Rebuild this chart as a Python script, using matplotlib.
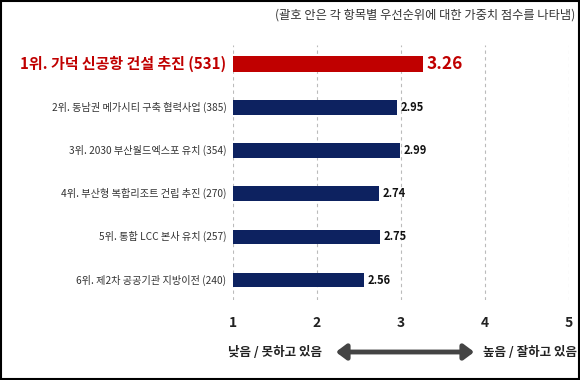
import matplotlib.pyplot as plt
from matplotlib.patches import Rectangle, FancyArrowPatch
import matplotlib.transforms as mtrans

plt.rcParams['font.family'] = ['Noto Sans CJK KR', 'DejaVu Sans']

# 데이터
ranks = ['1위', '2위', '3위', '4위', '5위', '6위']
items = ['가덕 신공항 건설 추진', '동남권 메가시티 구축 협력사업', '2030 부산월드엑스포 유치',
         '부산형 복합리조트 건립 추진', '통합 LCC 본사 유치', '제2차 공공기관 지방이전']
weights = [531, 385, 354, 270, 257, 240]
scores = [3.26, 2.95, 2.99, 2.74, 2.75, 2.56]
x_ticks = [1, 2, 3, 4, 5]

red = '#C00000'
navy = '#0D2260'

fig = plt.figure(figsize=(5.8, 3.8), dpi=100)
ax = fig.add_axes([233 / 580, 1 - 300 / 380, (569 - 233) / 580, 255 / 380])

y = list(range(len(items)))
colors = [red] + [navy] * (len(items) - 1)
heights = [0.38] + [0.34] * (len(items) - 1)
ax.barh(y, [s - 1 for s in scores], left=1, height=heights, color=colors, zorder=3)

for xt in x_ticks:
    ax.axvline(xt, color='#BBBBBB', lw=0.8, ls=(0, (3, 3)), zorder=1)

ax.set_xlim(1, 5)
ax.set_ylim(5.46, -0.44)
for s in ax.spines.values():
    s.set_visible(False)
ax.set_xticks([])
ax.set_yticks([])

# 항목 라벨과 값
for i in y:
    label = f'{ranks[i]}. {items[i]} ({weights[i]})'
    if i == 0:
        ax.text(-0.02, i, label, transform=ax.get_yaxis_transform(), ha='right', va='center',
                fontsize=10.8, fontweight='bold', color=red)
        ax.text(scores[i] + 0.04, i, f'{scores[i]:.2f}', ha='left', va='center',
                fontsize=12.5, fontweight='bold', color=red)
    else:
        ax.text(-0.02, i, label, transform=ax.get_yaxis_transform(), ha='right', va='center',
                fontsize=7.3, color='#333333')
        ax.text(scores[i] + 0.04, i, f'{scores[i]:.2f}', ha='left', va='center',
                fontsize=8, fontweight='bold', color='#111111')

# x축 눈금 라벨
trans = mtrans.blended_transform_factory(ax.transData, fig.transFigure)
for xt in x_ticks:
    ax.text(xt, 1 - 323 / 380, str(xt), transform=trans, ha='center', va='center',
            fontsize=10, fontweight='bold', color='#222222')

fig.text(228 / 580, 1 - 352 / 380, '낮음 / 못하고 있음', ha='left', va='center',
         fontsize=9, fontweight='bold', color='#222222')
fig.text(577 / 580, 1 - 352 / 380, '높음 / 잘하고 있음', ha='right', va='center',
         fontsize=9, fontweight='bold', color='#222222')
arrow = FancyArrowPatch((333 / 580, 1 - 352 / 380), (477 / 580, 1 - 352 / 380),
                        transform=fig.transFigure, arrowstyle='<|-|>,head_length=4,head_width=3',
                        mutation_scale=1.5, lw=3.5, color='#444444')
fig.patches.append(arrow)

fig.text(575 / 580, 1 - 15 / 380, '(괄호 안은 각 항목별 우선순위에 대한 가중치 점수를 나타냄)',
         ha='right', va='center', fontsize=8.8, color='#333333')

# 테두리
fig.patches.append(Rectangle((0.002, 0.003), 0.996, 0.994, transform=fig.transFigure,
                             fill=False, edgecolor='black', lw=1.5))

fig.savefig('out.png', dpi=100)
